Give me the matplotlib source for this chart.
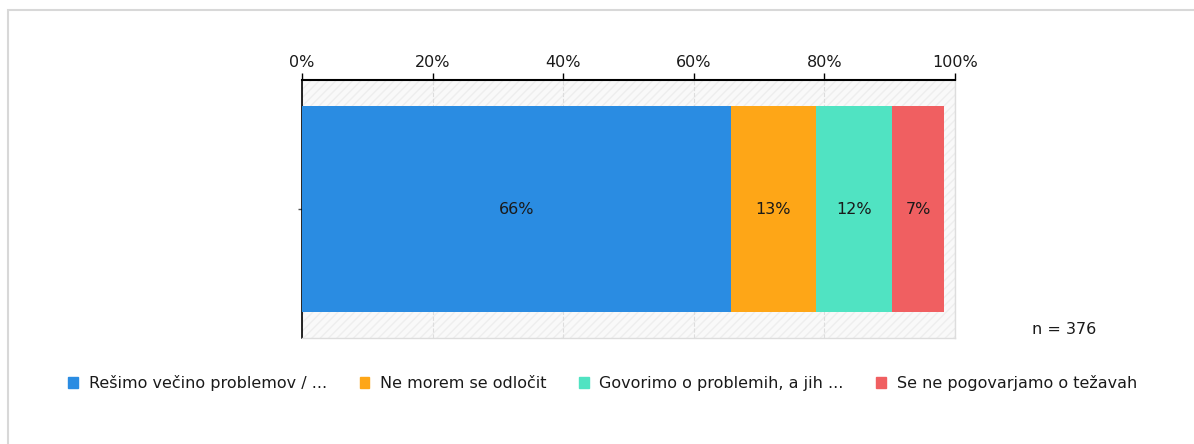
import matplotlib.pyplot as plt
from matplotlib.patches import Rectangle

# === DATA ===
categories = ["Rešimo večino problemov / ...", "Ne morem se odločit",
              "Govorimo o problemih, a jih ...", "Se ne pogovarjamo o težavah"]
values = [65.7, 13.0, 11.7, 7.9]
value_labels = ["66%", "13%", "12%", "7%"]
colors = ["#2a8ce2", "#fea617", "#50e3c2", "#f05f61"]
x_ticks = [0, 20, 40, 60, 80, 100]
x_ticklabels = ["0%", "20%", "40%", "60%", "80%", "100%"]
n_text = "n = 376"

W, H = 1194, 444
FS = 11.5
TXT = "#1a1a1a"
fig = plt.figure(figsize=(W / 100, H / 100), dpi=100)
plt.rcParams["font.family"] = ["DejaVu Sans"]

# frame of the widget
fig.patches.append(Rectangle((8 / W, -0.05), 1.1, 1 - 10 / H + 0.05,
                             transform=fig.transFigure, fill=False,
                             edgecolor="#d8d8d8", linewidth=1.5))

ax = fig.add_axes([302 / W, 1 - 338 / H, (955 - 302) / W, (338 - 80) / H])
ax.set_facecolor("#f9f9f9")
ax.add_patch(Rectangle((0, -0.5), 100, 1, facecolor="none", edgecolor="#eeeeee",
                       hatch="////", linewidth=0, zorder=0))

left = 0
for v, c, lab in zip(values, colors, value_labels):
    ax.barh(0, v, left=left, height=0.8, color=c, zorder=3)
    ax.text(left + v / 2, 0, lab, ha="center", va="center",
            fontsize=FS, color=TXT, zorder=4)
    left += v

ax.set_xlim(0, 100)
ax.set_ylim(-0.5, 0.5)
ax.xaxis.tick_top()
ax.set_xticks(x_ticks)
ax.set_xticklabels(x_ticklabels, fontsize=FS, color=TXT)
ax.tick_params(axis="x", length=5, width=1, color="black", pad=2)
ax.set_yticks([0])
ax.set_yticklabels([""])
ax.tick_params(axis="y", length=3, width=1, color="#555555")
ax.grid(axis="x", linestyle="--", color="#dddddd", linewidth=0.8, zorder=1)

ax.spines["top"].set_color("black")
ax.spines["top"].set_linewidth(1.5)
ax.spines["left"].set_color("black")
ax.spines["left"].set_linewidth(1.2)
for s in ["right", "bottom"]:
    ax.spines[s].set_color("#dddddd")
    ax.spines[s].set_linewidth(1)

fig.text(1032 / W, 1 - 329 / H, n_text, fontsize=FS, color=TXT,
         va="center", ha="left")

handles = [Rectangle((0, 0), 1, 1, color=c) for c in colors]
fig.legend(handles, categories, loc="center left",
           bbox_to_anchor=(54 / W, 1 - 383 / H), ncol=4, frameon=False,
           fontsize=FS, handlelength=0.62, handleheight=0.62,
           handletextpad=0.65, columnspacing=2.05, labelcolor=TXT)

fig.savefig("out.png", dpi=100)
